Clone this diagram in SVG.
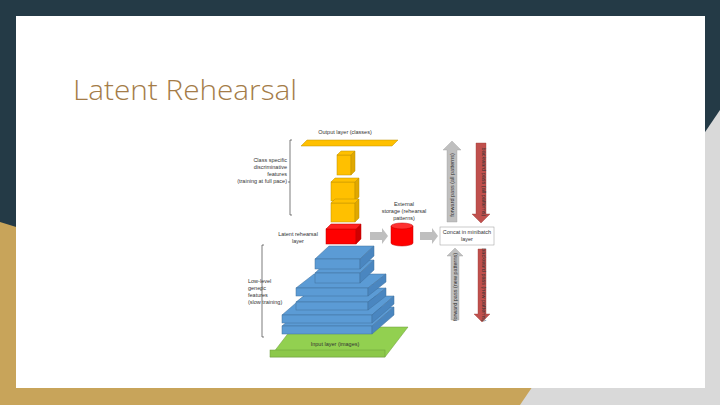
<svg xmlns="http://www.w3.org/2000/svg" width="720" height="405" viewBox="0 0 720 405">
<defs>
<style>
.t{font-family:"Liberation Sans",Arial,sans-serif;font-size:5.5px;fill:#333}
.blue{fill:#5b9bd5;stroke:#41719c;stroke-width:0.5}
.bd{fill:#4a86c0;stroke:#41719c;stroke-width:0.5}
.yel{fill:#ffc000;stroke:#bf9000;stroke-width:0.5}
.yd{fill:#e0a800;stroke:#bf9000;stroke-width:0.5}
.br{fill:none;stroke:#444;stroke-width:0.7}
</style>
</defs>
<rect width="720" height="405" fill="#243a46"/>
<polygon points="0,222 0,405 540,405 540,388" fill="#c8a45a"/>
<polygon points="720,110 720,405 520,405" fill="#d9d9d9"/>
<rect x="16" y="16" width="689" height="372" fill="#ffffff"/>
<text x="73" y="100" font-family="'Open Sans','Liberation Sans',sans-serif" font-weight="300" font-size="27" fill="#a47c48" textLength="224" lengthAdjust="spacingAndGlyphs">Latent Rehearsal</text>

<g id="output"><polygon points="301,146 392,146 398,140 307,140" class="yel"/>
<text class="t" x="345" y="134" text-anchor="middle">Output layer (classes)</text></g>
<g id="cube1"><rect x="337" y="155" width="14" height="20" class="yel"/><polygon points="337,155 341,151 355,151 351,155" class="yel"/><polygon points="351,155 355,151 355,171 351,175" class="yd"/></g>
<g id="cube2"><rect x="331" y="182" width="24" height="19" class="yel"/><polygon points="331,182 335,178 359,178 355,182" class="yel"/><polygon points="355,182 359,178 359,197 355,201" class="yd"/></g>
<g id="cube3"><rect x="331" y="203" width="24" height="19" class="yel"/><polygon points="331,203 335,199 359,199 355,203" class="yel"/><polygon points="355,203 359,199 359,218 355,222" class="yd"/></g>
<g id="latent"><rect x="326" y="229" width="30" height="15" fill="#ff0000" stroke="#c00000" stroke-width="0.5"/><polygon points="326,229 331,224 361,224 356,229" fill="#ff2020" stroke="#c00000" stroke-width="0.5"/><polygon points="356,229 361,224 361,239 356,244" fill="#d00000" stroke="#c00000" stroke-width="0.5"/>
<text class="t" x="298" y="236" text-anchor="middle">Latent rehearsal</text><text class="t" x="298" y="243" text-anchor="middle">layer</text></g>
<g id="storage"><path d="M391,226 v17 a11,3 0 0 0 22,0 v-17" fill="#ff0000" stroke="#c00000" stroke-width="0.5"/><ellipse cx="402" cy="226" rx="11" ry="3" fill="#ff3030" stroke="#c00000" stroke-width="0.5"/>
<text class="t" x="404" y="206" text-anchor="middle">External</text><text class="t" x="404" y="213" text-anchor="middle">storage (rehearsal</text><text class="t" x="404" y="220" text-anchor="middle">patterns)</text></g>
<g id="concat"><rect x="440" y="227" width="54" height="18" fill="#fff" stroke="#999" stroke-width="0.5"/>
<text class="t" x="467" y="234" text-anchor="middle">Concat in minibatch</text><text class="t" x="467" y="241" text-anchor="middle">layer</text></g>
<g id="left-labels">
<text class="t" x="287" y="162" text-anchor="end">Class specific</text><text class="t" x="287" y="169" text-anchor="end">discriminative</text><text class="t" x="287" y="176" text-anchor="end">features</text><text class="t" x="287" y="183" text-anchor="end">(training at full pace)</text>
<text class="t" x="248" y="283">Low-level</text><text class="t" x="248" y="290">generic</text><text class="t" x="248" y="297">features</text><text class="t" x="248" y="304">(slow training)</text>
<path class="br" d="M292,140 h-2 v75 h2 M290,182 h-2"/>
<path class="br" d="M264,245 h-2 v92 h2 M262,290 h-2"/></g>
<g id="input"><polygon points="270,357 385,357 408,327 293,327" fill="#92d050" stroke="#6a9a3a" stroke-width="0.5"/><rect x="270" y="350" width="115" height="7" fill="#8cc84a" stroke="#6a9a3a" stroke-width="0.5"/>
<text class="t" x="335" y="346" text-anchor="middle">Input layer (images)</text></g>
<g id="blue-stack">
<polygon points="282,326 372,326 394,307 304,307" class="blue"/><rect x="282" y="326" width="90" height="8" class="blue"/><polygon points="372,334 394,315 394,307 372,326" class="bd"/>
<polygon points="282,315 372,315 394,296 304,296" class="blue"/><rect x="282" y="315" width="90" height="8" class="blue"/><polygon points="372,323 394,304 394,296 372,315" class="bd"/>
<polygon points="296,302 368,302 386,288 314,288" class="blue"/><rect x="296" y="302" width="72" height="8" class="blue"/><polygon points="368,310 386,296 386,288 368,302" class="bd"/>
<polygon points="296,288 368,288 386,274 314,274" class="blue"/><rect x="296" y="288" width="72" height="8" class="blue"/><polygon points="368,296 386,282 386,274 368,288" class="bd"/>
<polygon points="315,273 360,273 374,260 329,260" class="blue"/><rect x="315" y="273" width="45" height="10" class="blue"/><polygon points="360,283 374,270 374,260 360,273" class="bd"/>
<polygon points="315,259 360,259 374,246 329,246" class="blue"/><rect x="315" y="259" width="45" height="10" class="blue"/><polygon points="360,269 374,256 374,246 360,259" class="bd"/>
</g>
<g id="connectors">
<polygon points="370,232 382,232 382,228 388,236 382,244 382,240 370,240" fill="#bfbfbf"/>
<polygon points="420,232 432,232 432,228 438,236 432,244 432,240 420,240" fill="#bfbfbf"/>
<polygon points="447,222 447,150 443,150 452,141 461,150 457,150 457,222" fill="#bfbfbf" stroke="#a0a0a0" stroke-width="0.4"/>
<polygon points="476,143 486,143 486,214 490,214 481,223 472,214 476,214" fill="#c0504d" stroke="#a03c3a" stroke-width="0.4"/>
<polygon points="451,320 451,256 447,256 455,248 463,256 459,256 459,320" fill="#bfbfbf" stroke="#a0a0a0" stroke-width="0.4"/>
<polygon points="478,249 486,249 486,314 490,314 482,322 474,314 478,314" fill="#c0504d" stroke="#a03c3a" stroke-width="0.4"/>
<text class="t" font-size="4.5" transform="translate(454,185) rotate(-90)" text-anchor="middle">forward pass (all patterns)</text>
<text class="t" font-size="4.5" transform="translate(482,182) rotate(90)" text-anchor="middle">backward pass (all patterns)</text>
<text class="t" font-size="4.5" transform="translate(457,287) rotate(-90)" text-anchor="middle">forward pass (new patterns)</text>
<text class="t" font-size="4.5" transform="translate(482,285) rotate(90)" text-anchor="middle">backward pass (new patterns)</text>
</g>
</svg>
